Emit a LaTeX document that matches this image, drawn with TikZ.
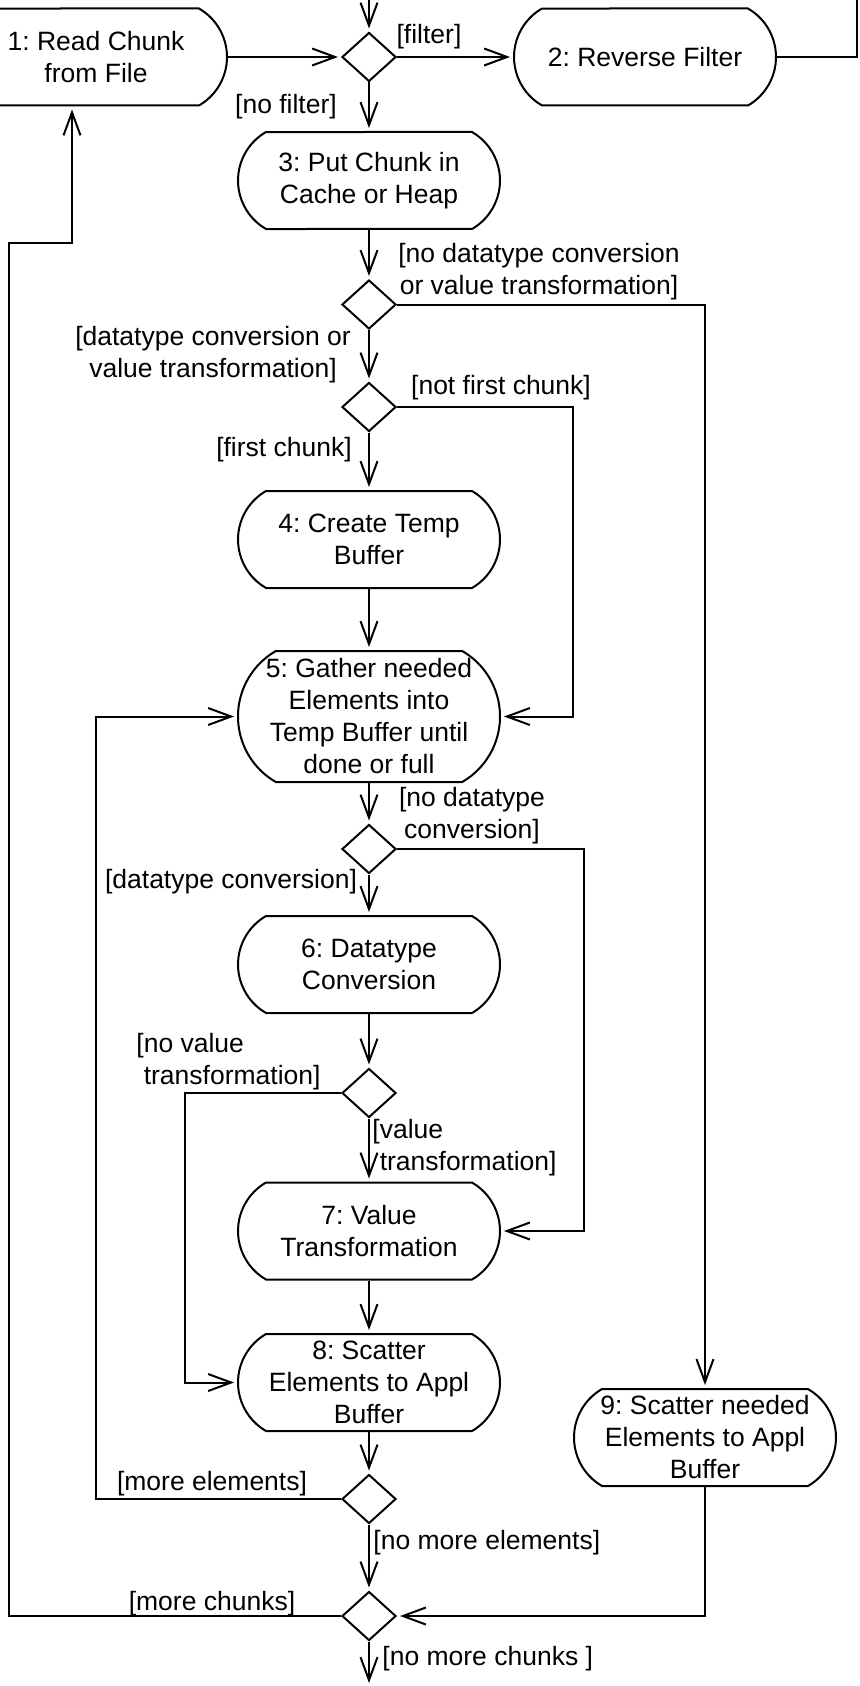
\documentclass[tikz,border=0pt]{standalone}
\usepackage{fontspec}
\setmainfont{Liberation Sans}
\usetikzlibrary{shapes.misc,shapes.geometric,arrows.meta,calc}

\begin{document}
\begin{tikzpicture}[
	x=0.5pt, y=-0.5pt,
	activity/.style={
		rounded rectangle,
		rounded rectangle arc length=120,
		draw=black,
		line width=1pt,
		align=center,
		inner sep=1pt,
		font=\fontsize{13.25}{16}\selectfont\frenchspacing,
		minimum height=48.5pt,
		minimum width=133pt
	},
	decision/.style={
		diamond,
		draw=black,
		line width=1pt,
		inner sep=0pt,
		minimum width=27pt,
		minimum height=24.5pt
	},
	guard/.style={
		inner sep=0pt,
		align=center,
		font=\fontsize{13.25}{16}\selectfont\frenchspacing
	},
	flow/.style={
		line width=1pt,
		-{Straight Barb[length=11.5pt,width=8.5pt]},
		shorten >=1.5pt
	},
]

\useasboundingbox (0,0) rectangle (859,1686);

\node[activity] (n1) at (96,57) {1: Read Chunk\\from File};
\node[decision] (d1) at (369,57) {};
\node[activity] (n2) at (645,57) {2: Reverse Filter};
\node[activity] (n3) at (369,180.5) {3: Put Chunk in\\Cache or Heap};
\node[decision] (d2) at (369,304.5) {};
\node[decision] (d3) at (369,407) {};
\node[activity] (n4) at (369,539.5) {4: Create Temp\\Buffer};
\node[activity, minimum height=65.5pt] (n5) at (369,716.5)
	{5: Gather needed\\Elements into\\Temp Buffer until\\done or full};
\node[decision] (d4) at (369,849) {};
\node[activity] (n6) at (369,964.5) {6: Datatype\\Conversion};
\node[decision] (d5) at (369,1093) {};
\node[activity] (n7) at (369,1231) {7: Value\\Transformation};
\node[activity] (n8) at (369,1382.5) {8: Scatter\\Elements to Appl\\Buffer};
\node[activity] (n9) at (705,1437.5) {9: Scatter needed\\Elements to Appl\\Buffer};
\node[decision] (d6) at (369,1499) {};
\node[decision] (d7) at (369,1616) {};
\coordinate (exit) at (369,1686);

% guards
\node[guard] (lfilter) at (429,37) {[filter]};
\node[guard] (lnofilter) at (286,107) {[no filter]};
\node[guard] (lnoconv1) at (539,272) {[no datatype conversion\\or value transformation]};
\node[guard] (lconv1) at (213,355) {[datatype conversion or\\value transformation]};
\node[guard] (lnotfirst) at (501,388) {[not first chunk]};
\node[guard] (lfirst) at (284,450) {[first chunk]};
\node[guard] (lnoconv2) at (472,816) {[no datatype\\conversion]};
\node[guard] (lconv2) at (231,882) {[datatype conversion]};
\node[guard, align=left, anchor=west] (lnoval) at (136,1062) {[no value\\\ transformation]};
\node[guard, align=left, anchor=west] (lval) at (372,1148) {[value\\\ transformation]};
\node[guard] (lmoreel) at (212,1484) {[more elements]};
\node[guard, anchor=west] (lnomoreel) at (373,1543) {[no more elements]};
\node[guard] (lmorech) at (212,1604) {[more chunks]};
\node[guard, anchor=west] (lnomorech) at (382,1659) {[no more chunks ]};

\draw[flow] (n2.east) -| (857,-30) -| (d1.north);
\draw[flow] (n1.east) -- (d1.west);
\draw[flow] (d1.east) -- (n2.west);
\draw[flow] (d1.south) -- (n3.north);
\draw[flow] (n3.south) -- (d2.north);
\draw[flow] (d2.south) -- (d3.north);
\draw[flow] (d2.east) -| (n9.north);
\draw[flow] (d3.south) -- (n4.north);
\draw[flow] (d3.east) -- ++(176,0) |- (n5.east);
\draw[flow] (n4.south) -- (n5.north);
\draw[flow] (n5.south) -- (d4.north);
\draw[flow] (d4.south) -- (n6.north);
\draw[flow] (d4.east) -- ++(187,0) |- (n7.east);
\draw[flow] (n6.south) -- (d5.north);
\draw[flow] (d5.south) -- (n7.north);
\draw[flow] (d5.west) -- ++(-156,0) |- (n8.west);
\draw[flow] (n7.south) -- (n8.north);
\draw[flow] (n8.south) -- (d6.north);
\draw[flow] (d6.west) -- ++(-245,0) |- (n5.west);
\draw[flow] (d6.south) -- (d7.north);
\draw[flow] (n9.south) |- (d7.east);
\draw[flow] (d7.west) -| (9,243) -| ($(n1.south)+(-24,0)$);
\draw[flow] (d7.south) -- (exit);

\end{tikzpicture}
\end{document}
